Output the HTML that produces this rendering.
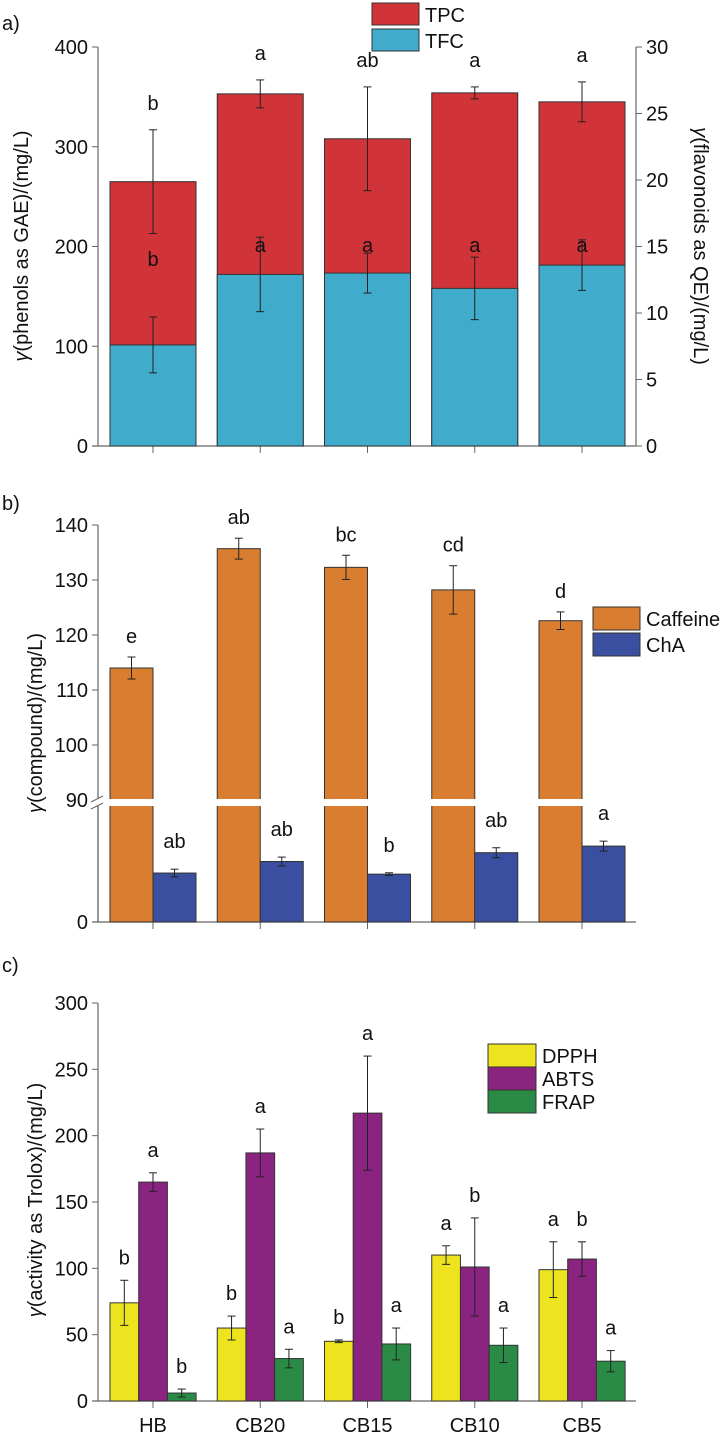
<!DOCTYPE html>
<html><head><meta charset="utf-8"><style>
body{margin:0;background:#fff}
svg{display:block;font-family:"Liberation Sans",Arial,sans-serif}
</style></head><body>
<svg id="c" width="728" height="1438"></svg>
<script>
const categories=["HB","CB20","CB15","CB10","CB5"];
const tpc=[265,353,308,354,345];
const tpcErr=[52,14,52,6,20];
const tpcLetters=["b","a","ab","a","a"];
const tfc=[7.6,12.9,13.0,11.85,13.6];
const tfcErr=[2.1,2.8,1.5,2.35,1.9];
const tfcLetters=["b","a","a","a","a"];
const caffeine=[114,135.7,132.3,128.2,122.6];
const caffeineErr=[2,1.9,2.2,4.4,1.6];
const caffeineLetters=["e","ab","bc","cd","d"];
const cha=[8.9,11.0,8.7,12.6,13.8];
const chaErr=[0.7,0.8,0.25,0.9,0.9];
const chaLetters=["ab","ab","b","ab","a"];
const dpph=[74,55,45,110,99];
const dpphErr=[17,9,1,7,21];
const dpphLetters=["b","b","b","a","a"];
const abts=[165,187,217,101,107];
const abtsErr=[7,18,43,37,13];
const abtsLetters=["a","a","a","b","b"];
const frap=[6,32,43,42,30];
const frapErr=[3,7,12,13,8];
const frapLetters=["b","a","a","a","a"];
const ticksA=[0,100,200,300,400];
const ticksAR=[0,5,10,15,20,25,30];
const ticksB=[90,100,110,120,130,140];
const ticksC=[0,50,100,150,200,250,300];

const svg=document.getElementById('c');
const NS="http://www.w3.org/2000/svg";
function el(t,a,p){const e=document.createElementNS(NS,t);for(const k in a)e.setAttribute(k,a[k]);(p||svg).appendChild(e);return e;}
function txt(x,y,s,a,p){const e=el('text',Object.assign({x:x,y:y,'font-size':20,fill:'#111'},a||{}),p);e.textContent=s;return e;}
const X0=98,X1=636,step=107.25;
const cx=i=>153+i*step;
function errbar(x,y1,y2,p){el('line',{x1:x,x2:x,y1:y1,y2:y2,stroke:'#222','stroke-width':1},p);el('line',{x1:x-4,x2:x+4,y1:y1,y2:y1,stroke:'#222'},p);el('line',{x1:x-4,x2:x+4,y1:y2,y2:y2,stroke:'#222'},p);}
function axisBox(bottom,top,p){el('line',{x1:X0,x2:X0,y1:top,y2:bottom,stroke:'#666','stroke-width':1.2},p);el('line',{x1:X0-6,x2:X1,y1:bottom,y2:bottom,stroke:'#666','stroke-width':1.2},p);categories.forEach((c,i)=>el('line',{x1:cx(i),x2:cx(i),y1:bottom,y2:bottom+7,stroke:'#666'},p));}

// Panel a
const gA=el('g',{});
const yA=v=>446-v*(399/400), yAR=v=>446-v*(399/30);
txt(2,30,'a)',{},gA);
axisBox(446,47,gA);
el('line',{x1:X1,x2:X1,y1:47,y2:446,stroke:'#666','stroke-width':1.2},gA);
ticksA.forEach(t=>{el('line',{x1:X0-6,x2:X0,y1:yA(t),y2:yA(t),stroke:'#666'},gA);txt(X0-10,yA(t)+7,String(t),{'text-anchor':'end'},gA);});
ticksAR.forEach(t=>{el('line',{x1:X1,x2:X1+6,y1:yAR(t),y2:yAR(t),stroke:'#666'},gA);txt(X1+10,yAR(t)+7,String(t),{},gA);});
categories.forEach((c,i)=>{
 const b=el('rect',{x:cx(i)-43,y:yA(tpc[i]),width:86,height:446-yA(tpc[i]),fill:'#d03338',stroke:'#333'},gA);
 
 const f=el('rect',{x:cx(i)-43,y:yAR(tfc[i]),width:86,height:446-yAR(tfc[i]),fill:'#41abcb',stroke:'#333'},gA);
 
 errbar(cx(i),yA(tpc[i]-tpcErr[i]),yA(tpc[i]+tpcErr[i]),gA);
 errbar(cx(i),yAR(tfc[i]-tfcErr[i]),yAR(tfc[i]+tfcErr[i]),gA);
 txt(cx(i),yA(tpc[i]+tpcErr[i])-20,tpcLetters[i],{'text-anchor':'middle'},gA);
 txt(cx(i),i===0?266:252,tfcLetters[i],{'text-anchor':'middle'},gA);
});
const lgA=el('g',{},gA);
el('rect',{x:372,y:3,width:47,height:22,fill:'#d03338',stroke:'#333'},lgA);txt(425,22,'TPC',{},lgA);
el('rect',{x:372,y:29,width:47,height:22,fill:'#41abcb',stroke:'#333'},lgA);txt(425,48,'TFC',{},lgA);
const ta=txt(0,0,'',{transform:'translate(28,246) rotate(-90)','text-anchor':'middle'},gA);
ta.innerHTML='<tspan font-style="italic">γ</tspan>(phenols as GAE)/(mg/L)';
const tb=txt(0,0,'',{transform:'translate(694,246) rotate(90)','text-anchor':'middle'},gA);
tb.innerHTML='<tspan font-style="italic">γ</tspan>(flavonoids as QE)/(mg/L)';

// Panel b
const gB=el('g',{});
const yB=v=>800-(v-90)*5.5, yBL=v=>922-v*5.5;
txt(2,510,'b)',{},gB);
axisBox(922,525,gB);
ticksB.forEach(t=>{el('line',{x1:X0-6,x2:X0,y1:yB(t),y2:yB(t),stroke:'#666'},gB);txt(X0-10,yB(t)+7,String(t),{'text-anchor':'end'},gB);});
el('line',{x1:X0-6,x2:X0,y1:922,y2:922,stroke:'#666'},gB);txt(X0-10,929,'0',{'text-anchor':'end'},gB);
categories.forEach((c,i)=>{
 const b=el('rect',{x:cx(i)-43,y:yB(caffeine[i]),width:43,height:922-yB(caffeine[i]),fill:'#d97d30',stroke:'#333'},gB);
 
 const h=el('rect',{x:cx(i),y:yBL(cha[i]),width:43,height:922-yBL(cha[i]),fill:'#3a4fa0',stroke:'#333'},gB);
 
 errbar(cx(i)-21.5,yB(caffeine[i]-caffeineErr[i]),yB(caffeine[i]+caffeineErr[i]),gB);
 errbar(cx(i)+21.5,yBL(cha[i]-chaErr[i]),yBL(cha[i]+chaErr[i]),gB);
 txt(cx(i)-21.5,yB(caffeine[i]+caffeineErr[i])-14,caffeineLetters[i],{'text-anchor':'middle'},gB);
 txt(cx(i)+21.5,yBL(cha[i]+chaErr[i])-21,chaLetters[i],{'text-anchor':'middle'},gB);
});
el('rect',{x:X0-8,y:799,width:X1-X0+10,height:7,fill:'#fff'},gB);
el('line',{x1:X0-7,x2:X0+5,y1:802,y2:796,stroke:'#666'},gB);el('line',{x1:X0-7,x2:X0+5,y1:809,y2:803,stroke:'#666'},gB);
el('line',{x1:X0,x2:X0,y1:806,y2:922,stroke:'#666','stroke-width':1.2},gB);
const lgB=el('g',{},gB);
el('rect',{x:593,y:607,width:47,height:23,fill:'#d97d30',stroke:'#333'},lgB);txt(646,626,'Caffeine',{},lgB);
el('rect',{x:593,y:633,width:47,height:23,fill:'#3a4fa0',stroke:'#333'},lgB);txt(646,652,'ChA',{},lgB);
const tc=txt(0,0,'',{transform:'translate(42,723) rotate(-90)','text-anchor':'middle'},gB);
tc.innerHTML='<tspan font-style="italic">γ</tspan>(compound)/(mg/L)';

// Panel c
const gC=el('g',{});
const yC=v=>1401-v*(398/300);
txt(2,972,'c)',{},gC);
axisBox(1401,1003,gC);
ticksC.forEach(t=>{el('line',{x1:X0-6,x2:X0,y1:yC(t),y2:yC(t),stroke:'#666'},gC);txt(X0-10,yC(t)+7,String(t),{'text-anchor':'end'},gC);});
const sets=[[dpph,dpphErr,dpphLetters,'#ede41f','dpph'],[abts,abtsErr,abtsLetters,'#8b2380','abts'],[frap,frapErr,frapLetters,'#2a8b46','frap']];
categories.forEach((c,i)=>{
 sets.forEach((s,j)=>{
  const x=cx(i)-43+j*28.7, v=s[0][i], e=s[1][i];
  const r=el('rect',{x:x,y:yC(v),width:28.7,height:1401-yC(v),fill:s[3],stroke:'#333'},gC);
  
  errbar(x+14.3,yC(v-e),yC(v+e),gC);
  txt(x+14.3,yC(v+e)-16,s[2][i],{'text-anchor':'middle'},gC);
 });
 txt(cx(i),1432,c,{'text-anchor':'middle'},gC);
});
const lgC=el('g',{},gC);
[['DPPH','#ede41f'],['ABTS','#8b2380'],['FRAP','#2a8b46']].forEach((l,k)=>{el('rect',{x:488,y:1044+k*23,width:48,height:23,fill:l[1],stroke:'#333'},lgC);txt(542,1063+k*23,l[0],{},lgC);});
const td=txt(0,0,'',{transform:'translate(42,1200) rotate(-90)','text-anchor':'middle'},gC);
td.innerHTML='<tspan font-style="italic">γ</tspan>(activity as Trolox)/(mg/L)';
</script>
</body></html>
